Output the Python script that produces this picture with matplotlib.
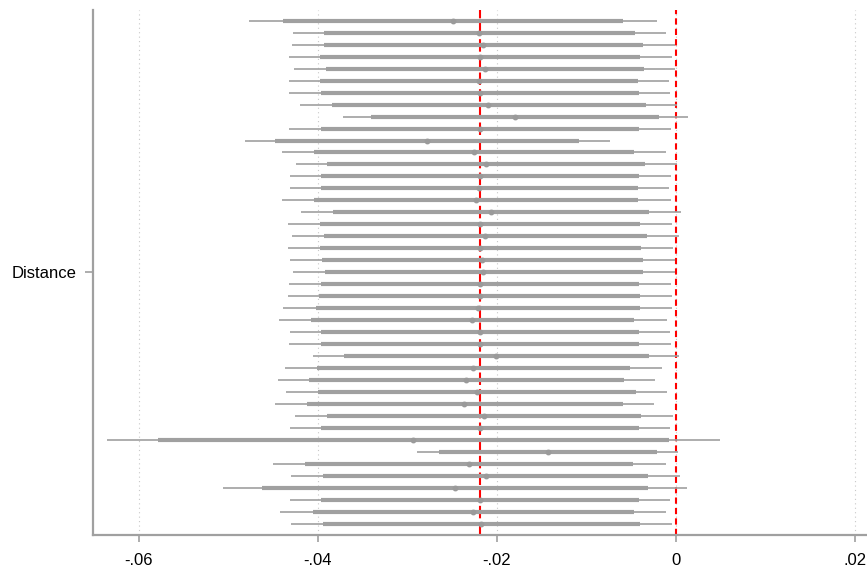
import matplotlib
matplotlib.use("Agg")
import matplotlib.pyplot as plt
import numpy as np

plt.rcParams['font.family'] = ['Liberation Sans', 'DejaVu Sans']

# point estimates, top row first
coef = [-0.02494, -0.02203, -0.02154, -0.02192, -0.02136, -0.02203, -0.02192, -0.02098,
        -0.01797, -0.02192, -0.02780, -0.02259, -0.02125, -0.02192, -0.02196, -0.02229,
        -0.02069, -0.02192, -0.02132, -0.02192, -0.02162, -0.02151, -0.02192, -0.02192,
        -0.02210, -0.02274, -0.02192, -0.02192, -0.02013, -0.02263, -0.02341, -0.02226,
        -0.02363, -0.02143, -0.02192, -0.02933, -0.01436, -0.02311, -0.02128, -0.02471,
        -0.02192, -0.02263, -0.02177]

# 95% interval
lo95 = [-0.04765, -0.04281, -0.04285, -0.04326, -0.04263, -0.04326, -0.04318, -0.04195,
        -0.03723, -0.04318, -0.04818, -0.04397, -0.04244, -0.04315, -0.04315, -0.04400,
        -0.04184, -0.04330, -0.04293, -0.04333, -0.04311, -0.04277, -0.04318, -0.04337,
        -0.04385, -0.04433, -0.04315, -0.04318, -0.04054, -0.04371, -0.04445, -0.04355,
        -0.04475, -0.04251, -0.04315, -0.06355, -0.02896, -0.04505, -0.04304, -0.05056,
        -0.04315, -0.04419, -0.04296]
hi95 = [-0.00218, -0.00109, -0.00017, -0.00042, -0.00013, -0.00076, -0.00069, 0.00013,
        0.00136, -0.00061, -0.00743, -0.00114, 0.00006, -0.00061, -0.00080, -0.00061,
        0.00050, -0.00042, 0.00031, -0.00036, -0.00013, -0.00013, -0.00061, -0.00050,
        -0.00042, -0.00106, -0.00069, -0.00061, 0.00036, -0.00162, -0.00237, -0.00098,
        -0.00244, -0.00036, -0.00069, 0.00489, 0.00020, -0.00114, 0.00047, 0.00117,
        -0.00069, -0.00114, -0.00047]

# 90% interval
lo90 = [-0.04389, -0.03935, -0.03927, -0.03972, -0.03905, -0.03972, -0.03964, -0.03846,
        -0.03402, -0.03964, -0.04475, -0.04039, -0.03894, -0.03961, -0.03961, -0.04039,
        -0.03830, -0.03972, -0.03935, -0.03972, -0.03953, -0.03924, -0.03964, -0.03983,
        -0.04020, -0.04073, -0.03961, -0.03961, -0.03712, -0.04013, -0.04095, -0.03998,
        -0.04121, -0.03897, -0.03961, -0.05782, -0.02650, -0.04140, -0.03942, -0.04620,
        -0.03961, -0.04058, -0.03946]
hi90 = [-0.00598, -0.00460, -0.00366, -0.00400, -0.00363, -0.00427, -0.00419, -0.00337,
        -0.00188, -0.00416, -0.01082, -0.00472, -0.00349, -0.00416, -0.00427, -0.00422,
        -0.00304, -0.00400, -0.00330, -0.00397, -0.00366, -0.00371, -0.00416, -0.00404,
        -0.00404, -0.00467, -0.00416, -0.00416, -0.00304, -0.00516, -0.00583, -0.00449,
        -0.00594, -0.00389, -0.00416, -0.00076, -0.00218, -0.00478, -0.00315, -0.00315,
        -0.00416, -0.00472, -0.00400]

ref_line = -0.0219
xticks = [-0.06, -0.04, -0.02, 0.0, 0.02]
xtick_labels = ['-.06', '-.04', '-.02', '0', '.02']
ylabel = 'Distance'

n = len(coef)
ypos = np.arange(n, 0, -1)
gray = '#a0a0a0'

fig = plt.figure(figsize=(8.67, 5.72), dpi=100)
ax = fig.add_axes([0.107, 0.065, 0.893, 0.918])

for x in xticks:
    ax.axvline(x, color='#c8c8c8', lw=0.8, ls=(0, (1, 3)), zorder=0)

ax.axvline(ref_line, color='#ff0000', lw=1.5, ls=(0, (6, 2)), zorder=1)
ax.axvline(0, color='#ff0000', lw=1.5, ls=(0, (3, 2)), zorder=1)

ax.hlines(ypos, lo95, hi95, color=gray, lw=1.2, zorder=2)
ax.hlines(ypos, lo90, hi90, color=gray, lw=3.0, zorder=3)
ax.plot(coef, ypos, 'o', color='#9a9a9a', ms=3.2, mec='#9a9a9a', zorder=4)

ax.set_xlim(-0.06512, 0.0213)
ax.set_ylim(0.083, n + 0.917)

ax.set_xticks(xticks)
ax.set_xticklabels(xtick_labels, fontsize=12)
ax.set_yticks([(n + 1) / 2])
ax.set_yticklabels([ylabel], fontsize=12)

for s in ['top', 'right']:
    ax.spines[s].set_visible(False)
for s in ['left', 'bottom']:
    ax.spines[s].set_color('#a0a0a0')
    ax.spines[s].set_linewidth(1.6)
ax.tick_params(axis='x', color='#a0a0a0', length=5, width=1.2, pad=8)
ax.tick_params(axis='y', color='#a0a0a0', length=6, width=1.2, pad=6)

fig.savefig('out.png', dpi=100)
